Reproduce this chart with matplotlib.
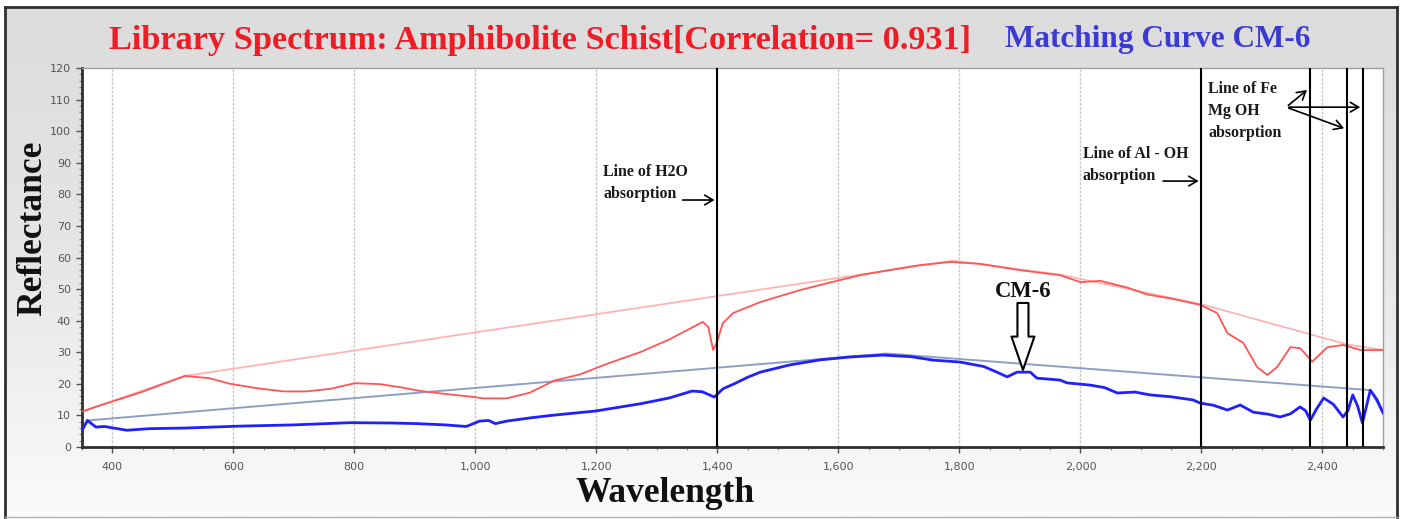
import numpy as np
import matplotlib
matplotlib.use("Agg")
import matplotlib.pyplot as plt
from matplotlib.ticker import MultipleLocator, FuncFormatter
from matplotlib.colors import LinearSegmentedColormap

# ---- library spectrum (red) ----
red_wl = [350, 380, 413, 450, 479, 520, 560, 595, 640, 683, 720, 760, 801, 843, 880,
          904, 950, 990, 1014, 1052, 1090, 1130, 1173, 1220, 1272, 1320, 1360, 1376,
          1385, 1393, 1399, 1409, 1426, 1471, 1537, 1580, 1636, 1690, 1735, 1785, 1834,
          1900, 1966, 2000, 2033, 2077, 2110, 2150, 2198, 2226, 2243, 2269, 2292, 2309,
          2325, 2347, 2363, 2383, 2408, 2434, 2463, 2500]
red_val = [11.2, 13.2, 15.2, 17.5, 19.6, 22.5, 21.8, 20.0, 18.6, 17.6, 17.6, 18.4, 20.2,
           19.9, 18.8, 17.9, 16.8, 16.0, 15.4, 15.4, 17.2, 21.0, 23.0, 26.5, 30.0, 34.0,
           38.0, 39.6, 38.0, 30.7, 33.0, 39.2, 42.4, 45.9, 49.7, 51.8, 54.4, 56.2, 57.6,
           58.6, 58.0, 56.0, 54.4, 52.2, 52.6, 50.5, 48.3, 47.0, 45.0, 42.4, 36.0, 33.0,
           25.3, 22.8, 25.3, 31.6, 31.3, 27.0, 31.6, 32.3, 30.7, 30.7]
red_hull_wl = [350, 520, 1790, 1966, 2200, 2440, 2500]
red_hull_val = [11.2, 22.5, 59.0, 54.6, 45.2, 32.5, 30.7]

# ---- matching curve CM-6 (blue) ----
blue_wl = [350, 359, 373, 387, 424, 461, 520, 609, 700, 793, 860, 904, 950, 985, 1007,
           1022, 1033, 1052, 1090, 1125, 1199, 1273, 1320, 1358, 1375, 1395, 1409, 1430,
           1449, 1471, 1520, 1570, 1619, 1674, 1720, 1757, 1801, 1840, 1862, 1879, 1895,
           1917, 1928, 1966, 1978, 2016, 2040, 2061, 2090, 2115, 2150, 2186, 2198, 2220,
           2243, 2264, 2286, 2310, 2330, 2347, 2363, 2372, 2380, 2390, 2402, 2418, 2434,
           2442, 2450, 2458, 2466, 2479, 2490, 2500]
blue_val = [5.3, 8.4, 6.3, 6.5, 5.3, 5.8, 6.0, 6.6, 7.0, 7.7, 7.6, 7.4, 7.0, 6.5, 8.2,
            8.4, 7.4, 8.2, 9.2, 10.0, 11.4, 13.7, 15.5, 17.7, 17.5, 15.8, 18.4, 20.2,
            22.0, 23.7, 26.0, 27.6, 28.5, 29.1, 28.6, 27.5, 26.9, 25.5, 23.7, 22.2, 23.7,
            23.7, 21.8, 21.2, 20.3, 19.6, 18.8, 17.1, 17.4, 16.5, 15.9, 14.9, 13.9, 13.2,
            11.7, 13.3, 11.0, 10.4, 9.5, 10.5, 12.7, 11.5, 8.5, 12.0, 15.5, 13.5, 9.5,
            11.5, 16.5, 13.0, 7.6, 18.0, 15.0, 10.8]
blue_hull_wl = [350, 359, 1680, 2479, 2500]
blue_hull_val = [5.3, 8.4, 29.6, 18.0, 10.8]

absorption_lines = [1400, 2200, 2380, 2440, 2467]

W, H = 1405, 519
SERIF = "Liberation Serif"


def fx(px):
    return px / W


def fy(py):
    return 1 - py / H


fig = plt.figure(figsize=(W / 100, H / 100), dpi=100)
fig.patch.set_facecolor("white")

# gray gradient panel behind everything
bg = fig.add_axes([fx(5), fy(517), fx(1397) - fx(5), fy(7) - fy(517)])
grad = np.linspace(0, 1, 256).reshape(-1, 1)
cmap = LinearSegmentedColormap.from_list("panel", ["#dcdcdc", "#e6e6e6", "#fbfbfb"])
bg.imshow(grad, aspect="auto", cmap=cmap, extent=[0, 1, 0, 1], origin="upper")
bg.set_xticks([])
bg.set_yticks([])
for side in ["top", "left", "right"]:
    bg.spines[side].set_color("#303030")
    bg.spines[side].set_linewidth(2)
bg.spines["bottom"].set_color("#b0b0b0")
bg.spines["bottom"].set_linewidth(1)

ax = fig.add_axes([fx(82), fy(447), fx(1383) - fx(82), fy(68) - fy(447)])
ax.set_facecolor("white")

ax.plot(red_hull_wl, red_hull_val, color="#ffb4b4", lw=1.3, zorder=2)
ax.plot(red_wl, red_val, color="#ff5555", lw=1.3, zorder=3)
ax.plot(blue_hull_wl, blue_hull_val, color="#8da0c4", lw=1.4, zorder=2)
ax.plot(blue_wl, blue_val, color="#1f1fff", lw=2.0, zorder=3)

for wl in absorption_lines:
    ax.axvline(wl, color="black", lw=1.5, zorder=4)

ax.set_xlim(350, 2500)
ax.set_ylim(0, 120)
ax.xaxis.set_major_locator(MultipleLocator(200))
ax.xaxis.set_minor_locator(MultipleLocator(50))
ax.yaxis.set_major_locator(MultipleLocator(10))
ax.yaxis.set_minor_locator(MultipleLocator(2))
ax.xaxis.set_major_formatter(FuncFormatter(lambda v, p: f"{int(v):,}"))
ax.grid(axis="x", which="major", color="#c8c8c8", lw=1, ls=(0, (2, 1)), zorder=1)
ax.tick_params(axis="both", which="major", labelsize=8, labelcolor="#555555",
               color="#555555", length=4, width=1)
ax.tick_params(axis="both", which="minor", color="#888888", length=2, width=0.8)
ax.tick_params(axis="x", pad=7)
ax.tick_params(axis="y", pad=4)
for side in ["left", "bottom"]:
    ax.spines[side].set_color("#303030")
    ax.spines[side].set_linewidth(2)
for side in ["top", "right"]:
    ax.spines[side].set_color("#a0a0a0")
    ax.spines[side].set_linewidth(1)

# annotations for absorption features
ann = dict(family=SERIF, fontweight="bold", fontsize=11.4, color="#1a1a1a",
           va="top", ha="left", linespacing=1.5)
arw = dict(arrowstyle="->,head_length=0.6,head_width=0.35", color="black", lw=1.2)

ax.text(1211, 89.5, "Line of H2O\nabsorption", **ann)
ax.annotate("", xy=(1400, 78.2), xytext=(1338, 78.2), arrowprops=arw)

ax.text(2004, 95.2, "Line of Al - OH\nabsorption", **ann)
ax.annotate("", xy=(2200, 84.2), xytext=(2132, 84.2), arrowprops=arw)

ax.text(2211, 116, "Line of Fe\nMg OH\nabsorption", **ann)
for tip in [(2378, 113.6), (2440, 100.6), (2467, 107.6)]:
    ax.annotate("", xy=tip, xytext=(2340, 107.6), arrowprops=arw)

# CM-6 hollow arrow
ax.text(1905, 49.3, "CM-6", family=SERIF, fontweight="bold", fontsize=16.3,
        ha="center", va="center", color="#111111")
ax.annotate("", xy=(1905, 24.4), xytext=(1905, 45.6),
            arrowprops=dict(arrowstyle="simple,head_width=1.1,head_length=1.6,tail_width=0.53",
                            fc="white", ec="black", lw=1.5, mutation_scale=15,
                            shrinkA=0, shrinkB=0))

# title
fig.text(fx(109), fy(40), "Library Spectrum: Amphibolite Schist[Correlation= 0.931]",
         color="#ee1c24", fontweight="bold", family=SERIF, fontsize=24.7,
         va="center", ha="left")
fig.text(fx(1005), fy(40), "Matching Curve CM-6", color="#3b3bd4", fontweight="bold",
         family=SERIF, fontsize=22.5, va="center", ha="left")

fig.text(fx(33), fy(228), "Reflectance", rotation=90, family=SERIF, fontweight="bold",
         fontsize=25.5, ha="center", va="center", color="#111111")
fig.text(fx(665), fy(493), "Wavelength", family=SERIF, fontweight="bold",
         fontsize=25.5, ha="center", va="center", color="#111111")

fig.savefig("out.png", dpi=100)
